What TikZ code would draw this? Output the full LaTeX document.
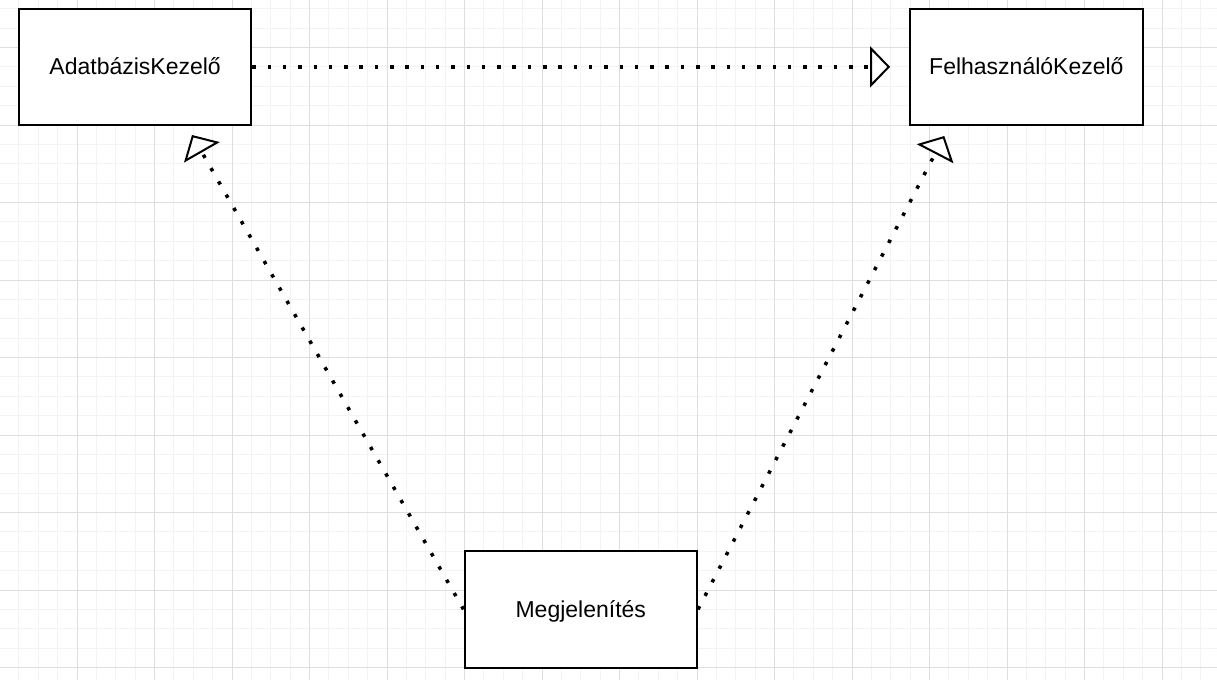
\documentclass[tikz,border=0pt]{standalone}
\usepackage{fontspec}
\setmainfont{Liberation Sans}
\usetikzlibrary{arrows.meta}
\definecolor{minorgrid}{HTML}{F3F3F3}
\definecolor{majorgrid}{HTML}{DEDEDE}
\tikzset{
  classbox/.style={draw=black, line width=2pt, fill=white, minimum width=232.5pt, minimum height=116.25pt,
    inner sep=0pt, text height=16pt, text depth=0pt, font=\fontsize{23pt}{27pt}\selectfont},
  realize/.style={line width=3.5pt, dash pattern=on 3.5pt off 11.8pt, line cap=butt,
    -{Triangle[open, length=20pt, width=41pt, line width=2pt, fill=white]}},
}
\begin{document}
\begin{tikzpicture}[x=1pt, y=-1pt]
\useasboundingbox (0,0) rectangle (1217,680);
% grid
\foreach \i in {0,...,63} {
  \pgfmathsetmacro{\gx}{-0.5+19.375*\i}
  \draw[minorgrid, line width=1pt] (\gx,0) -- (\gx,680);
}
\foreach \i in {0,...,35} {
  \pgfmathsetmacro{\gy}{8.75+19.375*\i}
  \draw[minorgrid, line width=1pt] (0,\gy) -- (1217,\gy);
}
\foreach \i in {0,...,15} {
  \pgfmathsetmacro{\gx}{-0.5+77.5*\i}
  \draw[majorgrid, line width=1pt] (\gx,0) -- (\gx,680);
}
\foreach \i in {0,...,9} {
  \pgfmathsetmacro{\gy}{-30+77.5*\i}
  \draw[majorgrid, line width=1pt] (0,\gy) -- (1217,\gy);
}
% classes
\node[classbox] (A) at (135.125,66.875) {AdatbázisKezelő};
\node[classbox] (F) at (1026.375,66.875) {FelhasználóKezelő};
\node[classbox] (M) at (580.75,609.375) {Megjelenítés};
% arrow end points
\coordinate (ta) at (192,135);
\coordinate (tf) at (944.3,136);
% connectors
\draw[realize, shorten >=19pt] (A.east) -- (F.west);
\draw[realize] (M.west) -- (ta);
\draw[realize] (M.east) -- (tf);
\end{tikzpicture}
\end{document}
